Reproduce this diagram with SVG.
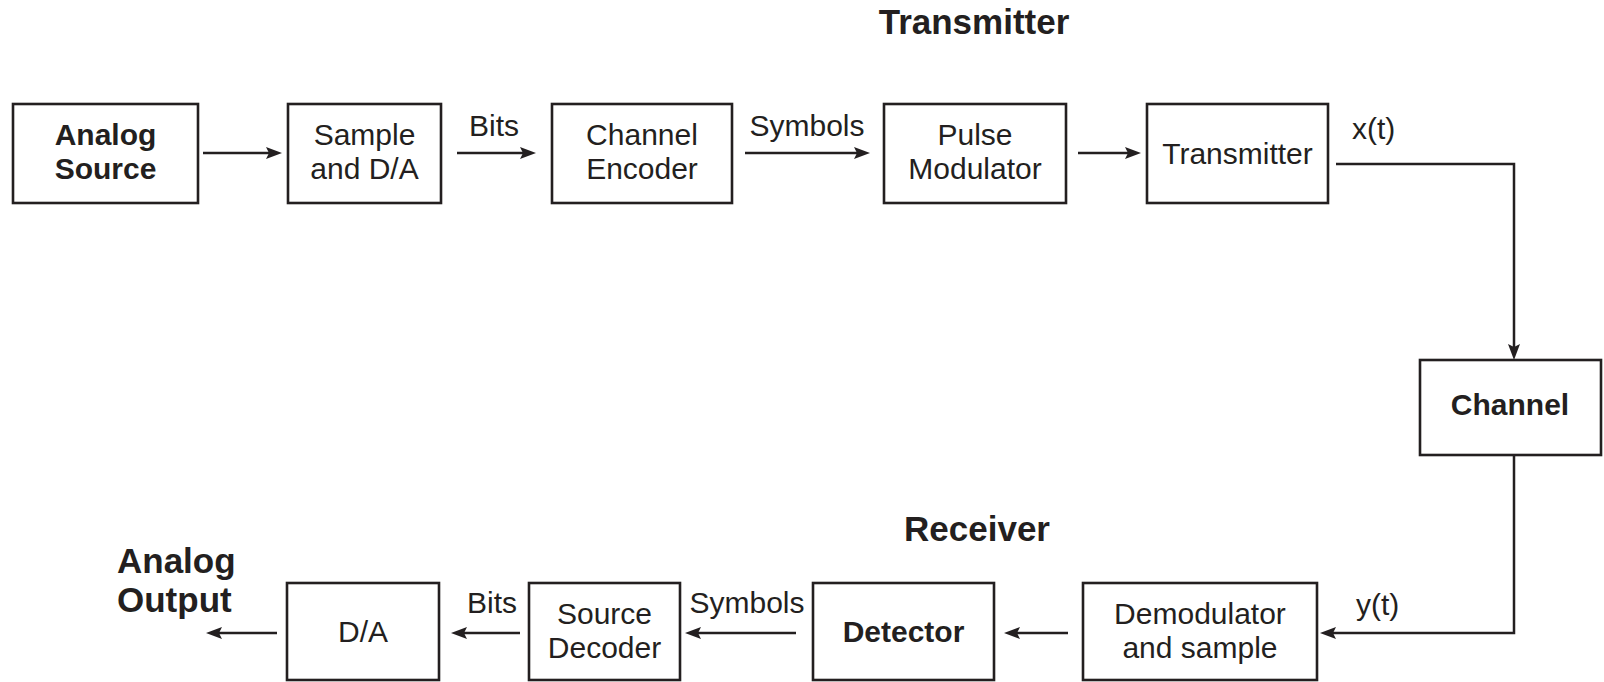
<svg xmlns="http://www.w3.org/2000/svg" width="1604" height="682" viewBox="0 0 1604 682">
<style>
.box{fill:#fff;stroke:#231f20;stroke-width:2.6}
.t{font-family:"Liberation Sans",Arial,sans-serif;font-size:30px;fill:#231f20;text-anchor:middle}
.s{font-family:"Liberation Sans",Arial,sans-serif;font-size:30px;fill:#231f20;text-anchor:start}
.b{font-weight:bold}
.big{font-family:"Liberation Sans",Arial,sans-serif;font-size:35px;font-weight:bold;fill:#231f20}
.c{fill:none;stroke:#231f20;stroke-width:2.5;marker-end:url(#ah)}
</style>
<defs>
<marker id="ah" viewBox="0 0 16 12" refX="6" refY="6" markerWidth="16" markerHeight="12" markerUnits="userSpaceOnUse" orient="auto">
<path d="M0,0 L16,6 L0,12 L3,6 z" fill="#231f20"/>
</marker>
</defs>
<rect width="1604" height="682" fill="#fff"/>
<text class="big" x="974" y="34" text-anchor="middle">Transmitter</text>
<text class="big" x="977" y="541" text-anchor="middle">Receiver</text>
<text class="big" x="117" y="573">Analog</text>
<text class="big" x="117" y="612">Output</text>
<g id="connectors">
<line class="c" x1="203" y1="153" x2="272" y2="153"/>
<line class="c" x1="457" y1="153" x2="526" y2="153"/>
<line class="c" x1="745" y1="153" x2="860" y2="153"/>
<line class="c" x1="1078" y1="153" x2="1131" y2="153"/>
<path class="c" d="M1336,164 H1514 V350"/>
<path class="c" d="M1514,455 V633 H1330"/>
<line class="c" x1="1068" y1="633" x2="1014" y2="633"/>
<line class="c" x1="796" y1="633" x2="695" y2="633"/>
<line class="c" x1="520" y1="633" x2="461" y2="633"/>
<line class="c" x1="277" y1="633" x2="216" y2="633"/>
<text class="t" x="494" y="136">Bits</text>
<text class="t" x="807" y="136">Symbols</text>
<text class="s" x="1352" y="139">x(t)</text>
<text class="t" x="492" y="613">Bits</text>
<text class="t" x="747" y="613">Symbols</text>
<text class="s" x="1356" y="615">y(t)</text>
</g>
<g id="analog-source">
<rect class="box" x="13" y="104" width="185" height="99"/>
<text class="t b" x="105.5" y="145">Analog</text>
<text class="t b" x="105.5" y="179">Source</text>
</g>
<g id="sample-da">
<rect class="box" x="288" y="104" width="153" height="99"/>
<text class="t" x="364.5" y="145">Sample</text>
<text class="t" x="364.5" y="179">and D/A</text>
</g>
<g id="channel-encoder">
<rect class="box" x="552" y="104" width="180" height="99"/>
<text class="t" x="642" y="145">Channel</text>
<text class="t" x="642" y="179">Encoder</text>
</g>
<g id="pulse-modulator">
<rect class="box" x="884" y="104" width="182" height="99"/>
<text class="t" x="975" y="145">Pulse</text>
<text class="t" x="975" y="179">Modulator</text>
</g>
<g id="transmitter">
<rect class="box" x="1147" y="104" width="181" height="99"/>
<text class="t" x="1237.5" y="164">Transmitter</text>
</g>
<g id="channel">
<rect class="box" x="1420" y="360" width="181" height="95"/>
<text class="t b" x="1510" y="415">Channel</text>
</g>
<g id="demodulator">
<rect class="box" x="1083" y="583" width="234" height="97"/>
<text class="t" x="1200" y="624">Demodulator</text>
<text class="t" x="1200" y="658">and sample</text>
</g>
<g id="detector">
<rect class="box" x="813" y="583" width="181" height="97"/>
<text class="t b" x="903.5" y="642">Detector</text>
</g>
<g id="source-decoder">
<rect class="box" x="529" y="583" width="151" height="97"/>
<text class="t" x="604.5" y="624">Source</text>
<text class="t" x="604.5" y="658">Decoder</text>
</g>
<g id="da">
<rect class="box" x="287" y="583" width="152" height="97"/>
<text class="t" x="363" y="642">D/A</text>
</g>
</svg>
